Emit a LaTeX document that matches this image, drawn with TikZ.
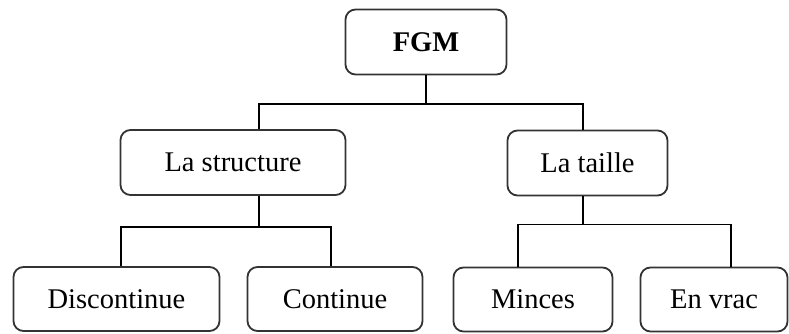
\documentclass[tikz,border=0pt]{standalone}
\usepackage{fontspec}
\setmainfont{Liberation Serif}
\usepackage{tikz}
\usetikzlibrary{calc}
\tikzset{bloc/.style={draw=black!80, line width=1.8pt, rounded corners=10pt, minimum height=65pt, inner sep=0pt, font=\fontsize{28.5}{34}\selectfont},
lien/.style={line width=1.4pt}}
\begin{document}
\begin{tikzpicture}[x=1pt,y=-1pt]
\useasboundingbox (0,0) rectangle (789,334);
\node[bloc, minimum width=161pt, font=\fontsize{28.5}{34}\selectfont\bfseries] (fgm) at (426,42) {FGM};
\node[bloc, minimum width=225pt] (struct) at (233,162.5) {La structure};
\node[bloc, minimum width=160pt] (taille) at (587.5,163) {La taille};
\node[bloc, minimum width=206pt, minimum height=64pt] (disc) at (116.5,299) {Discontinue};
\node[bloc, minimum width=175pt, minimum height=64pt] (cont) at (335,299) {Continue};
\node[bloc, minimum width=159pt, minimum height=64pt] (minc) at (533,299.5) {Minces};
\node[bloc, minimum width=147pt, minimum height=64pt] (vrac) at (714,299.5) {En vrac};
\draw[lien] (fgm.south) -- ++(0,28.5) -| ([xshift=26pt]struct.north);
\draw[lien] (fgm.south) -- ++(0,28.5) -| ([xshift=-4.5pt]taille.north);
\draw[lien] ([xshift=26pt]struct.south) -- ++(0,31) -| ([xshift=4.5pt]disc.north);
\draw[lien] ([xshift=26pt]struct.south) -- ++(0,31) -| ([xshift=-4pt]cont.north);
\draw[lien] ([xshift=-4.5pt]taille.south) -- ++(0,28) -| ([xshift=-15pt]minc.north);
\draw[lien] ([xshift=-4.5pt]taille.south) -- ++(0,28) -| ([xshift=17pt]vrac.north);
\end{tikzpicture}
\end{document}
